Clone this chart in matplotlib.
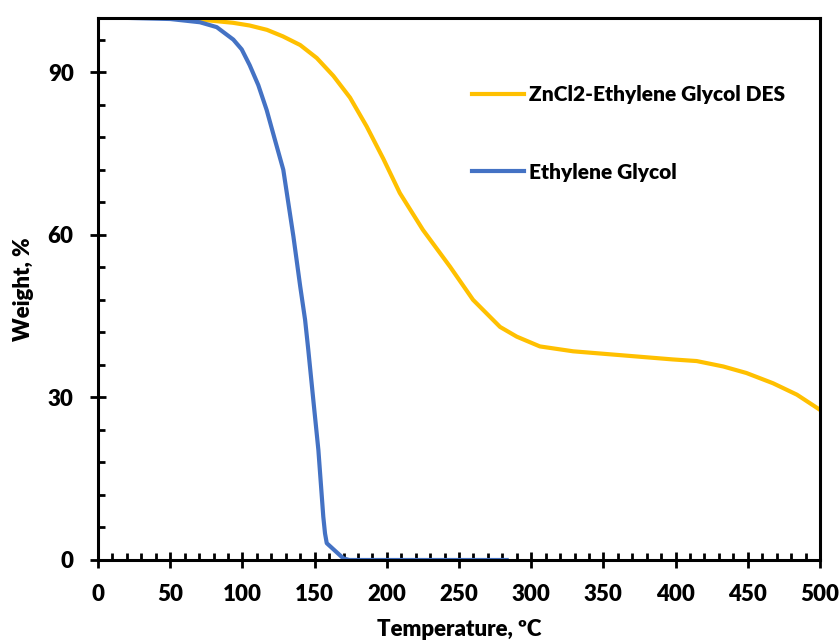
import matplotlib.pyplot as plt
from matplotlib.ticker import MultipleLocator

plt.rcParams['font.family'] = ['Lato', 'DejaVu Sans']
plt.rcParams['font.weight'] = 'heavy'

# ZnCl2-Ethylene Glycol DES
t_des = [21, 50, 70.6, 93.5, 105, 117, 128, 140, 151.5, 163, 174.5, 186,
         197.6, 209, 225, 243.8, 259.7, 278.4, 290, 306, 329, 352, 375,
         398, 414.6, 433, 449, 467.5, 484, 500]
w_des = [100, 100, 99.7, 99.1, 98.6, 97.8, 96.6, 95, 92.6, 89.3, 85.3, 80,
         74, 67.7, 60.9, 54.1, 48, 43, 41.2, 39.4, 38.5, 38, 37.5,
         37, 36.7, 35.7, 34.5, 32.6, 30.5, 27.7]

# Ethylene Glycol
t_eg = [21, 50, 70.6, 82.2, 93.7, 99.5, 105, 111, 116.8, 122, 128.3, 135.3, 140,
        143.4, 145.6, 149.1, 152.6, 156, 157.2, 158.4, 169.9, 174, 283]
w_eg = [100, 99.8, 99.2, 98.3, 96, 94.2, 91.3, 87.6, 83, 78, 72, 59.7, 50.5,
        44.3, 38.8, 29.5, 20.3, 8, 4.9, 3.1, 0.3, 0, 0]

fig = plt.figure(figsize=(8.4, 6.4), dpi=100)
ax = fig.add_axes([0.1167, 0.125, 0.8595, 0.847])

ax.plot(t_des, w_des, color='#FFC000', lw=3, solid_joinstyle='round',
        label='ZnCl2-Ethylene Glycol DES')
ax.plot(t_eg, w_eg, color='#4472C4', lw=3, solid_joinstyle='round',
        label='Ethylene Glycol')

ax.set_xlim(0, 500)
ax.set_ylim(0, 100)
ax.xaxis.set_major_locator(MultipleLocator(50))
ax.xaxis.set_minor_locator(MultipleLocator(10))
ax.yaxis.set_major_locator(MultipleLocator(30))
ax.yaxis.set_minor_locator(MultipleLocator(6))
ax.tick_params(which='major', direction='inout', length=11, width=2, labelsize=16)
ax.tick_params(axis='x', which='major', pad=12)
ax.tick_params(axis='y', which='major', pad=12)
ax.tick_params(which='minor', direction='in', length=5, width=2)
ax.tick_params(top=False, right=False, which='both')
for s in ax.spines.values():
    s.set_linewidth(2.2)

ax.set_xlabel('Temperature, ºC', fontsize=16, fontweight='heavy', labelpad=10)
ax.set_ylabel('Weight, %', fontsize=16, fontweight='heavy', labelpad=10)

ax.legend(loc='upper left', bbox_to_anchor=(0.492, 0.91), frameon=False, fontsize=15,
          handlelength=2.5, handletextpad=0.25, labelspacing=2.8)

plt.savefig('out.png')
